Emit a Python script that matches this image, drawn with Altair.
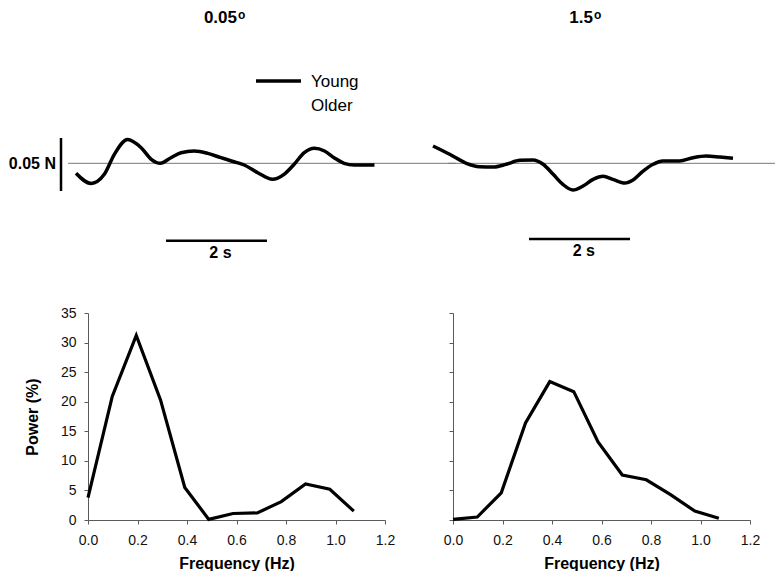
import altair as alt
import pandas as pd

FONT = "Liberation Sans"

# ---------------- data ----------------
# Power spectra
freq_hz = [0.0, 0.098, 0.195, 0.293, 0.391, 0.488, 0.586, 0.684, 0.781, 0.879, 0.977, 1.074]
power_005 = [3.8, 20.9, 31.2, 20.3, 5.5, 0.1, 1.1, 1.2, 3.1, 6.1, 5.2, 1.5]
power_15 = [0.1, 0.5, 4.6, 16.4, 23.4, 21.7, 13.2, 7.6, 6.8, 4.3, 1.5, 0.3]

x_ticks = [0.0, 0.2, 0.4, 0.6, 0.8, 1.0, 1.2]
y_ticks = [0, 5, 10, 15, 20, 25, 30, 35]

# Force traces (Young), time in s, force in N about the mean
time_005 = [0.0, 0.30, 0.56, 0.76, 1.02, 1.29, 1.49, 1.67, 1.88, 2.08, 2.34, 2.61, 2.87,
            3.13, 3.33, 3.60, 3.89, 4.12, 4.32, 4.52, 4.72, 4.92, 5.11, 5.31, 5.51, 5.91]
force_005 = [-0.0094, -0.0190, -0.0104, 0.0085, 0.0224, 0.0147, 0.0038, 0.0000, 0.0053,
             0.0100, 0.0116, 0.0094, 0.0053, 0.0015, -0.0016, -0.0089, -0.0151, -0.0104,
             -0.0009, 0.0100, 0.0141, 0.0116, 0.0053, 0.0000, -0.0016, -0.0016]

time_15 = [0.0, 0.33, 0.66, 0.92, 1.19, 1.45, 1.72, 1.98, 2.18, 2.38, 2.57, 2.77, 2.97,
           3.17, 3.37, 3.56, 3.80, 3.96, 4.16, 4.36, 4.55, 4.88, 5.15, 5.41, 5.68, 5.94]
force_15 = [0.0163, 0.0085, 0.0000, -0.0032, -0.0035, -0.0009, 0.0028, 0.0031, -0.0009,
            -0.0104, -0.0198, -0.0252, -0.0214, -0.0151, -0.0122, -0.0151, -0.0186, -0.0157,
            -0.0073, -0.0009, 0.0022, 0.0022, 0.0053, 0.0069, 0.0059, 0.0047]

panel_titles = ["0.05", "1.5"]
title_sup = "o"
legend_labels = ["Young", "Older"]
force_bar_label = "0.05 N"
time_bar_label = "2 s"
x_title = "Frequency (Hz)"
y_title = "Power (%)"

# ---------------- layout constants ----------------
W = 297
H_TOP = 262
H_BOT = 207
F_DOM = [-0.1016, 0.1456]


def xs(dom):
    return alt.X("t:Q", scale=alt.Scale(domain=dom, nice=False, zero=False), axis=None)


def ys():
    return alt.Y("f:Q", scale=alt.Scale(domain=F_DOM, nice=False, zero=False), axis=None)


def text_layer(rows, dom, **kw):
    df = pd.DataFrame(rows)
    return alt.Chart(df).mark_text(font=FONT, color="black", **kw).encode(
        x=xs(dom), y=ys(), text="label:N"
    )


def trace_panel(times, forces, dom, title, zero_span, tbar_start, tbar_f, tbar_text_t,
                title_t, sup_t, extra=()):
    tr = pd.DataFrame({"t": times, "f": forces})
    zero = alt.Chart(pd.DataFrame({"t": [zero_span[0]], "t2": [zero_span[1]], "f": [0.0]})
                     ).mark_rule(color="#7a7a7a", strokeWidth=1).encode(x=xs(dom), x2="t2:Q", y=ys())
    tbar = alt.Chart(pd.DataFrame({"t": [tbar_start], "t2": [tbar_start + 2.0], "f": [tbar_f]})
                     ).mark_rule(color="black", strokeWidth=2.5).encode(x=xs(dom), x2="t2:Q", y=ys())
    tlab = text_layer([{"t": tbar_text_t, "f": tbar_f - 0.0163, "label": time_bar_label}], dom,
                      align="center", baseline="alphabetic", fontSize=16, fontWeight="bold")
    ttl = text_layer([{"t": title_t, "f": 0.1324, "label": title}], dom,
                     align="right", baseline="alphabetic", fontSize=17, fontWeight="bold")
    sup = text_layer([{"t": sup_t, "f": 0.1361, "label": title_sup}], dom,
                     align="left", baseline="alphabetic", fontSize=12, fontWeight="bold")
    line = alt.Chart(tr).mark_line(color="black", strokeWidth=3.5, interpolate="monotone").encode(
        x=xs(dom), y=ys()
    )
    layers = [zero, tbar, tlab, ttl, sup] + list(extra) + [line]
    return alt.layer(*layers).properties(width=W, height=H_TOP)


dom_l = [0.2376, 6.1188]
dom_r = [0.396, 6.277]

# extras of left panel: force scale bar, its label, legend
fbar = alt.Chart(pd.DataFrame({"t": [-0.297], "f": [0.0239], "f2": [-0.0261]})).mark_rule(
    color="black", strokeWidth=2.5).encode(x=xs(dom_l), y=ys(), y2="f2:Q")
flab = text_layer([{"t": -0.396, "f": -0.0058, "label": force_bar_label}], dom_l,
                  align="right", baseline="alphabetic", fontSize=16, fontWeight="bold")
leg_line = alt.Chart(pd.DataFrame({"t": [3.564], "t2": [4.455], "f": [0.0776]})).mark_rule(
    color="black", strokeWidth=3.5).encode(x=xs(dom_l), x2="t2:Q", y=ys())
leg_text = text_layer([{"t": 4.653, "f": 0.0720, "label": legend_labels[0]},
                       {"t": 4.653, "f": 0.0493, "label": legend_labels[1]}], dom_l,
                      align="left", baseline="alphabetic", fontSize=17)

top_left = trace_panel(time_005, force_005, dom_l, panel_titles[0], (-0.158, 7.52),
                       1.782, -0.0730, 2.861, 3.188, 3.208, extra=(fbar, flab, leg_line, leg_text))
top_right = trace_panel(time_15, force_15, dom_r, panel_titles[1], (0.30, 6.772),
                        1.901, -0.0715, 2.986, 3.168, 3.188)


def spectrum_panel(power, show_labels):
    df = pd.DataFrame({"freq": freq_hz, "power": power})
    yaxis = alt.Axis(values=y_ticks, labels=show_labels, title=y_title if show_labels else "",
                     grid=False)
    return alt.Chart(df).mark_line(color="black", strokeWidth=3.2).encode(
        x=alt.X("freq:Q", scale=alt.Scale(domain=[0, 1.2], nice=False, zero=False),
                axis=alt.Axis(values=x_ticks, format=".1f", title=x_title, grid=False,
                              labelFlush=False)),
        y=alt.Y("power:Q", scale=alt.Scale(domain=[0, 35], nice=False, zero=False), axis=yaxis),
    ).properties(width=W, height=H_BOT)


bot_left = spectrum_panel(power_005, True)
bot_right = spectrum_panel(power_15, False)

chart = alt.concat(
    top_left, top_right, bot_left, bot_right,
    columns=2, spacing={"row": 42, "column": 68}, bounds="flush",
).properties(
    padding={"left": 0, "top": 0, "right": 0, "bottom": 0},
    autosize=alt.AutoSizeParams(type="pad", contains="padding"),
).configure_view(strokeWidth=0).configure_axis(
    domainColor="#5a5a5a", tickColor="#5a5a5a", tickSize=4,
    labelFont=FONT, labelFontSize=14, labelColor="#111111",
    titleFont=FONT, titleFontSize=16, titleFontWeight="bold", titleColor="black",
).configure_axisX(labelPadding=9, titlePadding=8).configure_axisY(labelPadding=8, titlePadding=20)

chart.save("out.html", embed_options={"renderer": "svg", "actions": False})
